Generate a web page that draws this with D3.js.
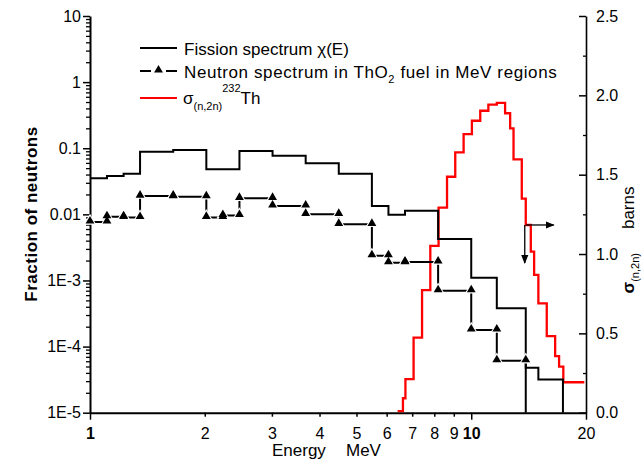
<!DOCTYPE html>
<html>
<head>
<meta charset="utf-8">
<script src="https://cdn.jsdelivr.net/npm/d3@7"></script>
<style>
body { margin: 0; background: #fff; }
svg { display: block; font-family: "Liberation Sans", Arial, sans-serif; }
.axis text { font-size: 16px; fill: #000; }
.axis path, .axis line { stroke: #000; }
</style>
</head>
<body>
<svg width="644" height="462"></svg>
<script>
// fission spectrum chi(E), bin edges (MeV) and fraction per bin
var fissionEdges = [1.0, 1.108, 1.225, 1.353, 1.653, 2.019, 2.466, 3.012, 3.679, 4.493, 5.488, 6.065, 6.703, 8.187, 10.0, 11.67, 13.9, 15.0, 17.4];
var fissionValues = [0.0351, 0.038, 0.0411, 0.0885, 0.0939, 0.048, 0.0908, 0.077, 0.0591, 0.0411, 0.01336, 0.00986, 0.01133, 0.00423, 0.0011, 0.000379, 4.78e-5, 3.19e-5];

// neutron spectrum in ThO2 fuel
var neutronEdges = [1.0, 1.108, 1.225, 1.353, 1.653, 2.019, 2.231, 2.466, 3.012, 3.679, 4.493, 5.488, 6.065, 6.703, 8.187, 10.0, 11.67, 13.9];
var neutronValues = [0.00765, 0.0092, 0.00895, 0.0189, 0.01846, 0.0090, 0.0096, 0.01746, 0.01336, 0.0100, 0.00706, 0.00236, 0.00185, 0.0019, 0.000699, 0.000178, 6.1e-5];

// sigma(n,2n) Th-232, barns
var sigmaEdges = [6.41, 6.62, 6.72, 7.06, 7.43, 7.81, 8.21, 8.64, 9.08, 9.55, 10.04, 10.56, 11.09, 11.67, 12.27, 12.65, 12.91, 13.57, 13.9, 14.33, 14.62, 15.0, 15.78, 16.6, 17.0, 17.44, 19.8];
var sigmaValues = [0.01, 0.091, 0.212, 0.473, 0.773, 1.051, 1.292, 1.487, 1.641, 1.756, 1.840, 1.903, 1.942, 1.952, 1.887, 1.792, 1.597, 1.349, 1.183, 1.015, 0.868, 0.689, 0.483, 0.357, 0.290, 0.192];

var xTicks = [1, 2, 3, 4, 5, 6, 7, 8, 9, 10, 20];
var xMajor = [1, 10, 20];
var yMajor = [10, 1, 0.1, 0.01, 1e-3, 1e-4, 1e-5];
var yLabels = ["10", "1", "0.1", "0.01", "1E-3", "1E-4", "1E-5"];
var y2Major = [0, 0.5, 1.0, 1.5, 2.0, 2.5];
var y2Minor = [0.25, 0.75, 1.25, 1.75, 2.25];

var pLeft = 90, pRight = 586, pTop = 16, pBottom = 412.7;
var svg = d3.select("svg");

var x = d3.scaleLog().domain([1, 20]).range([pLeft, pRight]);
var y = d3.scaleLog().domain([1e-5, 10]).range([pBottom, pTop]);
var y2 = d3.scaleLinear().domain([0, 2.5]).range([pBottom, pTop]);

function steps(edges, vals, floor) {
	var pts = [];
	vals.forEach(function(v, i) {
		pts.push([edges[i], v]);
		pts.push([edges[i + 1], v]);
	});
	if (floor != null) pts.push([edges[edges.length - 1], floor]);
	return pts;
}

var line = d3.line().x(function(d) { return x(d[0]); }).y(function(d) { return y(d[1]); });
var line2 = d3.line().x(function(d) { return x(d[0]); }).y(function(d) { return y2(d[1]); });

// minor ticks
var yMinor = [];
for (var k = -5; k < 1; k++) for (var j = 2; j < 10; j++) yMinor.push(j * Math.pow(10, k));

svg.append("g").attr("class", "axis").attr("transform", "translate(" + pLeft + ",0)")
	.call(d3.axisLeft(y).tickValues(yMinor).tickSize(4).tickSizeOuter(0).tickFormat(""))
	.call(function(g) { g.select(".domain").remove(); g.selectAll("line").attr("stroke-width", 1.3); });
svg.append("g").attr("class", "axis").attr("transform", "translate(" + pLeft + ",0)")
	.call(d3.axisLeft(y).tickValues(yMajor).tickSize(7).tickSizeOuter(0).tickPadding(2)
		.tickFormat(function(d, i) { return yLabels[i]; }))
	.call(function(g) {
		g.select(".domain").attr("stroke-width", 2);
		g.selectAll("line").attr("stroke-width", 1.5);
	});

svg.append("g").attr("class", "axis").attr("transform", "translate(0," + pBottom + ")")
	.call(d3.axisBottom(x).tickValues(xTicks).tickSizeOuter(0).tickPadding(8)
		.tickFormat(function(d) { return d; }))
	.call(function(g) {
		g.select(".domain").attr("stroke-width", 2);
		g.selectAll(".tick line").attr("stroke-width", 1.5)
			.attr("y2", function(d) { return xMajor.indexOf(d) >= 0 ? 7 : 4; });
		g.selectAll(".tick text").attr("y", 15).attr("dy", "0.71em")
			.attr("font-weight", function(d) { return (d == 1 || d == 10) ? "bold" : "normal"; });
	});

svg.append("g").attr("class", "axis").attr("transform", "translate(" + pRight + ",0)")
	.call(d3.axisRight(y2).tickValues(y2Minor).tickSize(-3).tickSizeOuter(0).tickFormat(""))
	.call(function(g) { g.select(".domain").remove(); g.selectAll("line").attr("stroke-width", 1.3); });
svg.append("g").attr("class", "axis").attr("transform", "translate(" + pRight + ",0)")
	.call(d3.axisRight(y2).tickValues(y2Major).tickSize(-7).tickSizeOuter(0).tickPadding(10).tickFormat(d3.format(".1f")))
	.call(function(g) {
		g.select(".domain").attr("stroke-width", 1.6);
		g.selectAll("line").attr("stroke-width", 1.5);
	});

// data
svg.append("path").datum(steps(sigmaEdges, sigmaValues, null))
	.attr("d", line2).attr("fill", "none").attr("stroke", "#ff0000").attr("stroke-width", 2.3);

svg.append("path").datum(steps(fissionEdges, fissionValues, 1e-5))
	.attr("d", line).attr("fill", "none").attr("stroke", "#000").attr("stroke-width", 2);

svg.append("path").datum(steps(neutronEdges, neutronValues, 1e-5))
	.attr("d", line).attr("fill", "none").attr("stroke", "#000").attr("stroke-width", 2);

var tri = d3.symbol().type(d3.symbolTriangle);
var npts = steps(neutronEdges, neutronValues, null);
svg.append("g").selectAll("path.halo").data(npts).enter().append("path")
	.attr("transform", function(d) { return "translate(" + x(d[0]) + "," + (y(d[1]) - 1) + ")"; })
	.attr("d", tri.size(70)()).attr("fill", "#fff");
svg.append("g").selectAll("path.mk").data(npts).enter().append("path")
	.attr("transform", function(d) { return "translate(" + x(d[0]) + "," + (y(d[1]) - 1) + ")"; })
	.attr("d", tri.size(34)()).attr("fill", "#000");

// arrows
svg.append("defs").append("marker").attr("id", "ah").attr("viewBox", "0 0 10 10")
	.attr("refX", 9).attr("refY", 5).attr("markerWidth", 9).attr("markerHeight", 9)
	.attr("markerUnits", "userSpaceOnUse").attr("orient", "auto")
	.append("path").attr("d", "M0,1L10,5L0,9Z").attr("fill", "#000");
var ax = x(13.9), ay = y2(1.183);
svg.append("line").attr("x1", ax).attr("y1", ay).attr("x2", ax + 28).attr("y2", ay)
	.attr("stroke", "#000").attr("stroke-width", 1.3).attr("marker-end", "url(#ah)");
svg.append("line").attr("x1", ax - 1).attr("y1", ay).attr("x2", ax - 1).attr("y2", ay + 38)
	.attr("stroke", "#000").attr("stroke-width", 1.3).attr("marker-end", "url(#ah)");

// legend
var lg = svg.append("g").attr("font-size", 17);
lg.append("line").attr("x1", 140).attr("x2", 177).attr("y1", 48).attr("y2", 48).attr("stroke", "#000").attr("stroke-width", 2);
lg.append("text").attr("x", 184).attr("y", 55).text("Fission spectrum \u03c7(E)");
lg.append("line").attr("x1", 140).attr("x2", 151).attr("y1", 71).attr("y2", 71).attr("stroke", "#000").attr("stroke-width", 2);
lg.append("line").attr("x1", 166).attr("x2", 177).attr("y1", 71).attr("y2", 71).attr("stroke", "#000").attr("stroke-width", 2);
lg.append("path").attr("transform", "translate(158.5,70)").attr("d", tri.size(34)()).attr("fill", "#000");
var t2 = lg.append("text").attr("x", 184).attr("y", 78).attr("letter-spacing", 0.6);
t2.append("tspan").text("Neutron spectrum in ThO");
t2.append("tspan").attr("font-size", 11).attr("dy", 5).text("2");
t2.append("tspan").attr("dy", -5).text(" fuel in MeV regions");
lg.append("line").attr("x1", 140).attr("x2", 177).attr("y1", 98).attr("y2", 98).attr("stroke", "#ff0000").attr("stroke-width", 2);
var t3 = lg.append("text").attr("x", 183).attr("y", 104);
t3.append("tspan").text("\u03c3");
t3.append("tspan").attr("font-size", 11).attr("dy", 6).text("(n,2n)");
t3.append("tspan").attr("font-size", 11).attr("dy", -18).text("232");
t3.append("tspan").attr("dy", 12).text("Th");

// axis titles
svg.append("text").attr("transform", "translate(37,214) rotate(-90)")
	.attr("text-anchor", "middle").attr("font-size", 17).attr("font-weight", "bold")
	.attr("letter-spacing", 0.5).text("Fraction of neutrons");

var rt = svg.append("text").attr("transform", "translate(634,240) rotate(-90)")
	.attr("text-anchor", "middle").attr("font-size", 17);
rt.append("tspan").attr("font-weight", "bold").text("\u03c3");
rt.append("tspan").attr("font-size", 11).attr("dy", 5).text("(n,2n)");
rt.append("tspan").attr("dy", -5).attr("dx", 24).text("barns");

var xt = svg.append("text").attr("y", 456).attr("font-size", 17);
xt.append("tspan").attr("x", 272).text("Energy");
xt.append("tspan").attr("x", 346).text("MeV");
</script>
</body>
</html>
